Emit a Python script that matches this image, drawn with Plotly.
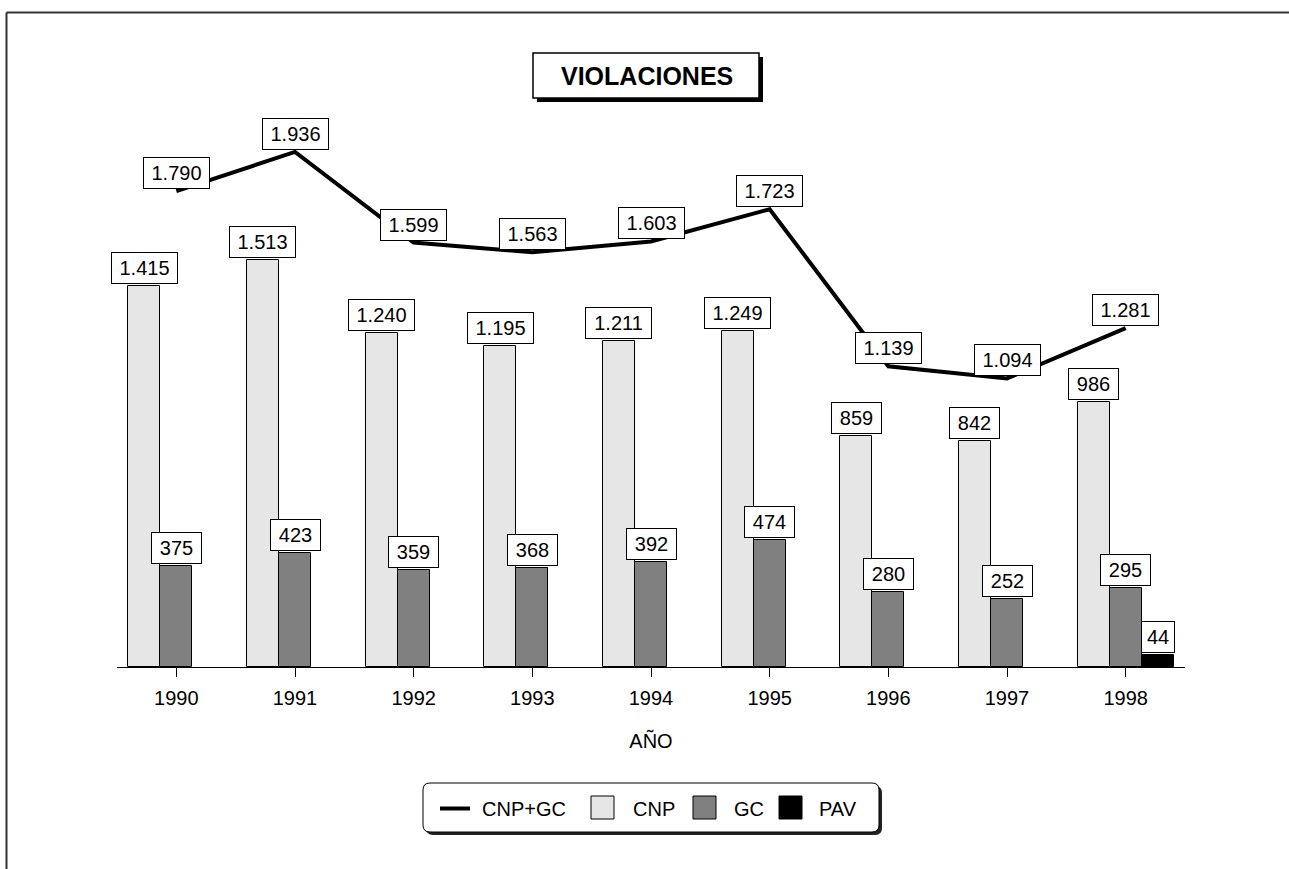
import plotly.graph_objects as go

# ---------------- data ----------------
years = ["1990", "1991", "1992", "1993", "1994", "1995", "1996", "1997", "1998"]
cnp = [1415, 1513, 1240, 1195, 1211, 1249, 859, 842, 986]
gc = [375, 423, 359, 368, 392, 474, 280, 252, 295]
pav = [None, None, None, None, None, None, None, None, 44]
cnp_gc = [1790, 1936, 1599, 1563, 1603, 1723, 1139, 1094, 1281]

# ---------------- layout helpers ----------------
W, H = 1289, 869
L, R, T, B = 117, 104, 100, 202
PW, PH = W - L - R, H - T - B
FONT = "Liberation Sans, Arial, Helvetica, sans-serif"


def px(x):
    return (x - L) / PW


def py(y):
    return (H - B - y) / PH


def fmt(v):
    return f"{v:,}".replace(",", ".")


def box_w(s):
    n = len(s)
    if n >= 5:
        return 57
    if n == 3:
        return 41
    return 24


idx = list(range(len(years)))
BW = 0.27
YMAX = 2108
LINE_SHIFT = 21

fig = go.Figure()
fig.add_bar(x=idx, y=cnp, width=BW, offset=-1.5 * BW, name="CNP",
            marker=dict(color="#e6e6e6", line=dict(color="black", width=1)))
fig.add_bar(x=idx, y=gc, width=BW, offset=-0.5 * BW, name="GC",
            marker=dict(color="#808080", line=dict(color="black", width=1)))
fig.add_bar(x=idx, y=pav, width=BW, offset=0.5 * BW, name="PAV",
            marker=dict(color="black", line=dict(color="black", width=1)))
fig.add_scatter(x=idx, y=cnp_gc, yaxis="y2", mode="lines", name="CNP+GC",
                line=dict(color="black", width=4))

ann = []


def label(x, y, v, yref="y"):
    s = fmt(v)
    ann.append(dict(x=x, y=y, xref="x", yref=yref, text=s, showarrow=False,
                    xanchor="center", yanchor="bottom", yshift=2,
                    bgcolor="white", bordercolor="black", borderwidth=1,
                    borderpad=4, width=box_w(s),
                    font=dict(family=FONT, size=20, color="black")))


for i in idx:
    label(i - BW, cnp[i], cnp[i])
    label(i, gc[i], gc[i])
    if pav[i] is not None:
        label(i + BW, pav[i], pav[i])
    label(i, cnp_gc[i], cnp_gc[i], yref="y2")

shapes = []
# outer frame (top + left)
shapes.append(dict(type="line", xref="paper", yref="paper", x0=px(6.5), x1=px(W + 5),
                   y0=py(12.5), y1=py(12.5), line=dict(color="#333333", width=2)))
shapes.append(dict(type="line", xref="paper", yref="paper", x0=px(6.5), x1=px(6.5),
                   y0=py(12.5), y1=py(H + 5), line=dict(color="#333333", width=2)))

# title box with shadow
shapes.append(dict(type="rect", xref="paper", yref="paper", x0=px(537), x1=px(763),
                   y0=py(57), y1=py(102), fillcolor="black", line=dict(width=0)))
shapes.append(dict(type="rect", xref="paper", yref="paper", x0=px(533), x1=px(759),
                   y0=py(53), y1=py(98), fillcolor="white",
                   line=dict(color="black", width=1.5)))
ann.append(dict(x=px(647), y=py(76), xref="paper", yref="paper", text="<b>VIOLACIONES</b>",
                showarrow=False, xanchor="center", yanchor="middle",
                font=dict(family=FONT, size=25, color="black")))


def rrect(x0, y0, x1, y1, r):
    pts = [("M", [(x0 + r, y0)]), ("L", [(x1 - r, y0)]), ("Q", [(x1, y0), (x1, y0 + r)]),
           ("L", [(x1, y1 - r)]), ("Q", [(x1, y1), (x1 - r, y1)]), ("L", [(x0 + r, y1)]),
           ("Q", [(x0, y1), (x0, y1 - r)]), ("L", [(x0, y0 + r)]),
           ("Q", [(x0, y0), (x0 + r, y0)])]
    out = ""
    for cmd, ps in pts:
        out += cmd + " " + " ".join(f"{px(a):.5f},{py(b):.5f}" for a, b in ps) + " "
    return out + "Z"


# legend box with shadow
shapes.append(dict(type="path", xref="paper", yref="paper", path=rrect(426, 786, 882, 835, 7),
                   fillcolor="#222222", line=dict(width=0)))
shapes.append(dict(type="path", xref="paper", yref="paper", path=rrect(423, 783, 879, 832, 7),
                   fillcolor="white", line=dict(color="black", width=1)))
# legend symbols
shapes.append(dict(type="line", xref="paper", yref="paper", x0=px(440), x1=px(470),
                   y0=py(808.5), y1=py(808.5), line=dict(color="black", width=4)))
for x0, col in [(591, "#e6e6e6"), (693, "#808080"), (779, "black")]:
    shapes.append(dict(type="rect", xref="paper", yref="paper", x0=px(x0), x1=px(x0 + 23),
                       y0=py(796), y1=py(819), fillcolor=col,
                       line=dict(color="black", width=1)))
for x0, txt in [(480, "CNP+GC"), (631, "CNP"), (732, "GC"), (817, "PAV")]:
    ann.append(dict(x=px(x0), y=py(809), xref="paper", yref="paper", text=txt,
                    showarrow=False, xanchor="left", yanchor="middle",
                    font=dict(family=FONT, size=20, color="black")))

fig.update_layout(
    width=W, height=H,
    margin=dict(l=L, r=R, t=T, b=B, autoexpand=False),
    paper_bgcolor="white", plot_bgcolor="white",
    showlegend=False,
    bargap=0,
    font=dict(family=FONT, size=20, color="black"),
    xaxis=dict(range=[-0.5, 8.5], tickvals=idx, ticktext=years, ticks="outside",
               ticklen=9, tickcolor="black", tickwidth=1, showline=True,
               linecolor="black", linewidth=1, showgrid=False, zeroline=False,
               ticklabelstandoff=4,
               tickfont=dict(family=FONT, size=20, color="black"),
               title=dict(text="AÑO", font=dict(family=FONT, size=20, color="black"),
                          standoff=25)),
    yaxis=dict(range=[0, YMAX], visible=False, showgrid=False, zeroline=False),
    yaxis2=dict(range=[LINE_SHIFT, YMAX + LINE_SHIFT], overlaying="y", visible=False,
                showgrid=False, zeroline=False),
    annotations=ann,
    shapes=shapes,
)

fig.write_html("out.html", config={"displayModeBar": False},
               post_script="document.body.style.margin='0px';")
